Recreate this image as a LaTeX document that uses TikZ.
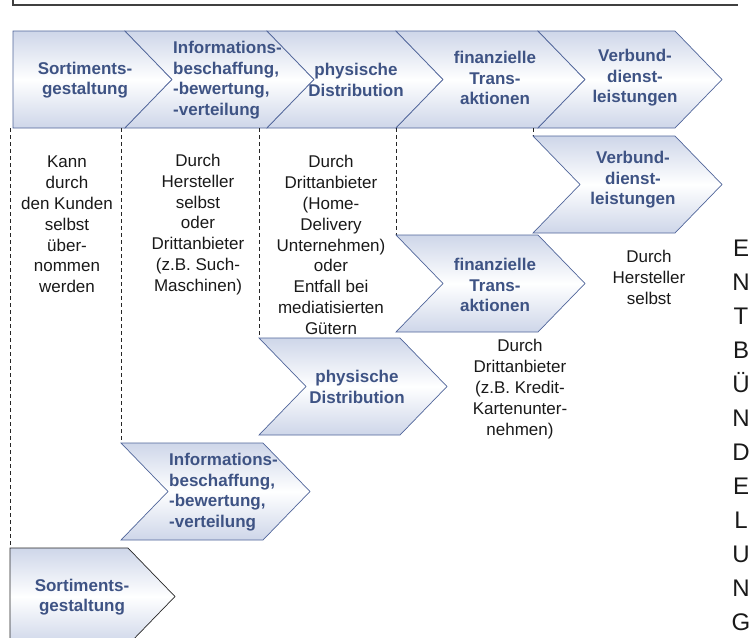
\documentclass[tikz,border=0pt]{standalone}
\usepackage{fontspec}
\setmainfont{Liberation Sans}
\definecolor{chevline}{RGB}{80,101,154}
\definecolor{chevtext}{RGB}{62,83,132}
\definecolor{chevshade}{RGB}{206,214,233}
% chevron outline: left x, top y, body width, notch depth
\newcommand{\chevpath}[4]{(#1,#2) -- ++(#3,0) -- ++(47,48.5) -- ++(-47,48.5) -- ++(-#3,0) -- ++(#4,-48.5) -- cycle}

\begin{document}
\begin{tikzpicture}[x=1pt,y=-1pt,
  chev/.style={draw=chevline, line width=0.7pt, top color=chevshade, bottom color=chevshade, middle color=white},
  lab/.style={text=chevtext, font=\fontsize{17}{20.5}\selectfont\bfseries, align=center, inner sep=0pt},
  txt/.style={text=black!90, font=\fontsize{17}{20.8}\selectfont, align=center, inner sep=0pt},
  sep/.style={black!85, dash pattern=on 4pt off 3pt, line width=0.8pt}]
  \useasboundingbox (0,0) rectangle (756,638);
  \clip (0,0) rectangle (756,638);

  % frame above
  \draw[black!75, line width=1.2pt] (13,0) -- (13,5) -- (738,5);

  % bundled chain
  \shadedraw[chev] \chevpath{13}{31}{112}{0};
  \shadedraw[chev] \chevpath{125}{31}{142}{47};
  \shadedraw[chev] \chevpath{267}{31}{129}{47};
  \shadedraw[chev] \chevpath{396}{31}{142}{47};
  \shadedraw[chev] \chevpath{538}{31}{137}{47};
  \node[lab] (sort1) at (85,80) {Sortiments-\\gestaltung};
  \node[lab, align=left, anchor=west] (info1) at (173,80) {Informations-\\beschaffung,\\-bewertung,\\-verteilung};
  \node[lab] (phys1) at (356,80) {physische\\Distribution};
  \node[lab] (fin1) at (495,78) {finanzielle\\Trans-\\aktionen};
  \node[lab] (verb1) at (635,78) {Verbund-\\dienst-\\leistungen};

  % separators
  \draw[sep] (10,128) -- (10,548);
  \draw[sep] (121,128) -- (121,443);
  \draw[sep] (259,128) -- (259,338);
  \draw[sep] (396,128) -- (396,235);
  \draw[sep] (533,128) -- (533,136);

  % unbundled steps
  \shadedraw[chev] \chevpath{533}{136}{142}{47};
  \shadedraw[chev] \chevpath{396}{235}{142}{47};
  \shadedraw[chev] \chevpath{259}{338}{141}{47};
  \shadedraw[chev] \chevpath{121}{443}{142}{47};
  \shadedraw[chev, draw=black!85] \chevpath{10}{548}{118}{0};
  \node[lab] (verb2) at (633,180) {Verbund-\\dienst-\\leistungen};
  \node[lab] (fin2) at (495,285) {finanzielle\\Trans-\\aktionen};
  \node[lab] (phys2) at (357,387) {physische\\Distribution};
  \node[lab, align=left, anchor=west] (info2) at (169,492) {Informations-\\beschaffung,\\-bewertung,\\-verteilung};
  \node[lab] (sort2) at (82,597) {Sortiments-\\gestaltung};

  % who takes over
  \node[txt] (kunde) at (67,224.5) {Kann\\durch\\den Kunden\\selbst\\über-\\nommen\\werden};
  \node[txt] (herst) at (198,224.5) {Durch\\Hersteller\\selbst\\oder\\Drittanbieter\\(z.B. Such-\\Maschinen)};
  \node[txt] (dritt) at (331,245) {Durch\\Drittanbieter\\(Home-\\Delivery\\Unternehmen)\\oder\\Entfall bei\\mediatisierten\\Gütern};
  \node[txt] (herst2) at (649,277.5) {Durch\\Hersteller\\selbst};
  \node[txt] (dritt2) at (520,389) {Durch\\Drittanbieter\\(z.B. Kredit-\\Kartenunter-\\nehmen)};

  \node[txt, font=\fontsize{24}{34}\selectfont] (entb) at (741,435) {E\\N\\T\\B\\Ü\\N\\D\\E\\L\\U\\N\\G};
\end{tikzpicture}
\end{document}
